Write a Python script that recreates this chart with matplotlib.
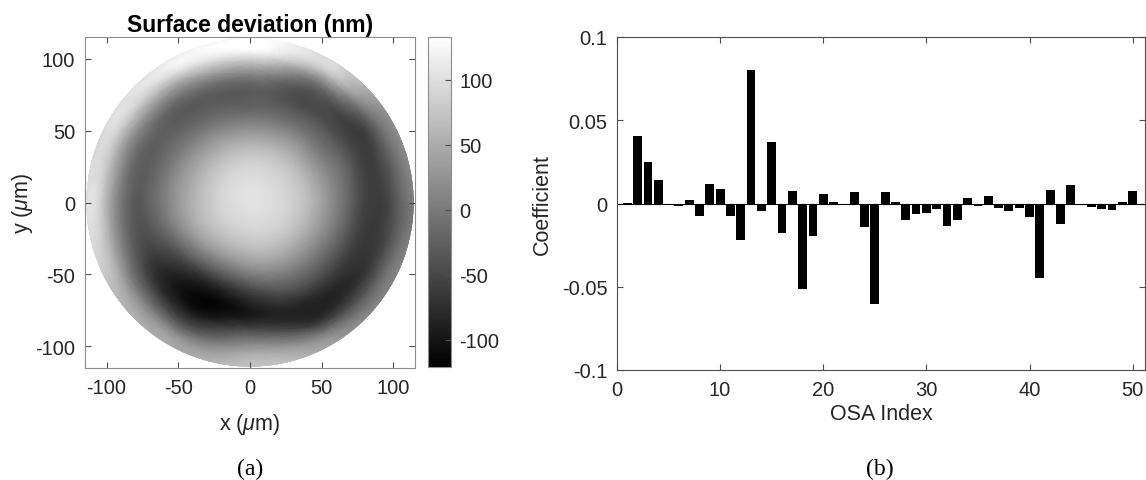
import matplotlib

matplotlib.use("Agg")

import matplotlib.pyplot as plt
import matplotlib.tri as mtri
import numpy as np
from matplotlib.patches import Circle

plt.rcParams["font.family"] = ["Liberation Sans", "DejaVu Sans"]
plt.rcParams["mathtext.fontset"] = "custom"
plt.rcParams["mathtext.it"] = "Liberation Sans:italic"
plt.rcParams["mathtext.rm"] = "Liberation Sans"
plt.rcParams["axes.unicode_minus"] = False

# surface map, values on a polar grid (nm)
ring_radius = [25, 45, 60, 75, 90, 105, 120]
ring_angle_deg = [0, 30, 60, 90, 120, 150, 180, 210, 240, 270, 300, 330]
center_nm = 104
surface_nm = [
    [91, 91, 91, 91, 89, 87, 84, 82, 79, 82, 86, 89],
    [54, 51, 49, 44, 44, 44, 44, 34, 14, 24, 39, 47],
    [9, 4, -1, -6, -1, 4, 4, -26, -66, -46, -11, -1],
    [-41, -36, -41, -31, -31, -26, -31, -61, -113, -96, -66, -51],
    [-61, -61, -31, 19, 4, 4, 0, -31, -76, -36, -86, -71],
    [-21, -6, 75, 125, 105, 89, 89, 49, 19, 49, 4, -16],
    [19, 35, 85, 110, 95, 84, 89, 74, 54, 74, 54, 19],
]
cbar_ticks = [-100, -50, 0, 50, 100]
map_ticks = [-100, -50, 0, 50, 100]

# zernike coefficients
osa_index = list(range(1, 51))
coeffs = [
    0.0003, 0.0405, 0.0252, 0.0144, -0.0003, -0.0016, 0.0022, -0.0074, 0.0118, 0.0088,
    -0.0074, -0.0222, 0.0804, -0.0048, 0.0372, -0.0180, 0.0076, -0.0512, -0.0198, 0.0060,
    0.0012, -0.0006, 0.0070, -0.0140, -0.0602, 0.0070, 0.0012, -0.0100, -0.0062, -0.0060,
    -0.0036, -0.0138, -0.0102, 0.0036, -0.0018, 0.0048, -0.0030, -0.0046, -0.0026, -0.0082,
    -0.0446, 0.0084, -0.0122, 0.0112, -0.0012, -0.0020, -0.0036, -0.0040, 0.0010, 0.0078,
]
bar_yticks = [-0.1, -0.05, 0, 0.05, 0.1]
bar_yticklabels = ["-0.1", "-0.05", "0", "0.05", "0.1"]
bar_xticks = [0, 10, 20, 30, 40, 50]

W, H = 1146, 481
fig = plt.figure(figsize=(W / 100, H / 100), dpi=100)
axis_gray = "#4d4d4d"
text_gray = "#262626"
tick_fs = 14.5
label_fs = 15.5


def box(x0, y0, x1, y1):
    return [x0 / W, 1 - y1 / H, (x1 - x0) / W, (y1 - y0) / H]


# polar mesh: centre point, then rings; each ring-to-ring quad split in two
n_ang = len(ring_angle_deg)
rr, tt = np.meshgrid(ring_radius, np.radians(ring_angle_deg), indexing="ij")
xs = np.concatenate([[0.0], (rr * np.cos(tt)).ravel()])
ys = np.concatenate([[0.0], (rr * np.sin(tt)).ravel()])
zs = np.concatenate([[center_nm], np.array(surface_nm, dtype=float).ravel()])
triangles = []
for j in range(n_ang):
    triangles.append([0, 1 + j, 1 + (j + 1) % n_ang])
for i in range(len(ring_radius) - 1):
    for j in range(n_ang):
        a = 1 + i * n_ang + j
        b = 1 + i * n_ang + (j + 1) % n_ang
        c = b + n_ang
        d = a + n_ang
        triangles.append([a, b, c])
        triangles.append([a, c, d])
tri = mtri.Triangulation(xs, ys, triangles)
tri_f, z_f = mtri.UniformTriRefiner(tri).refine_field(zs, subdiv=5)

# left panel
ax1 = fig.add_axes(box(85, 38, 415, 369))
pc = ax1.tripcolor(tri_f, z_f, shading="gouraud", cmap="gray", vmin=-121, vmax=133)
pc.set_clip_path(Circle((0, 0), 114, transform=ax1.transData))
ax1.set_xlim(-115, 115)
ax1.set_ylim(-115, 115)
ax1.set_xticks(map_ticks)
ax1.set_yticks(map_ticks)
ax1.tick_params(direction="in", length=4, top=True, right=True, labelsize=tick_fs,
                colors=axis_gray, labelcolor=text_gray, pad=7)
for sp in ax1.spines.values():
    sp.set_color("#8c8c8c")
ax1.set_title("Surface deviation (nm)", fontsize=16.5, fontweight="bold", pad=4)
ax1.set_xlabel(r"x ($\mu$m)", fontsize=label_fs, color=text_gray, labelpad=10)
ax1.set_ylabel(r"y ($\mu$m)", fontsize=label_fs, color=text_gray, labelpad=0)

cax = fig.add_axes(box(428, 38, 451, 368))
cb = fig.colorbar(pc, cax=cax)
cb.set_ticks(cbar_ticks)
cb.ax.tick_params(direction="in", length=4, labelsize=tick_fs, colors=axis_gray,
                  labelcolor=text_gray, pad=6)
cb.outline.set_edgecolor("#8c8c8c")

# right panel
ax2 = fig.add_axes(box(617, 38, 1145, 371))
ax2.bar(osa_index, coeffs, width=0.86, color="black", edgecolor="none")
ax2.axhline(0, color="black", lw=0.8)
ax2.set_xlim(0, 51.2)
ax2.set_ylim(-0.1, 0.1)
ax2.set_xticks(bar_xticks)
ax2.set_yticks(bar_yticks)
ax2.set_yticklabels(bar_yticklabels)
ax2.tick_params(direction="in", length=4, top=True, right=True, labelsize=tick_fs,
                colors=axis_gray, labelcolor=text_gray, pad=7)
for sp in ax2.spines.values():
    sp.set_color(axis_gray)
ax2.set_xlabel("OSA Index", fontsize=label_fs, color=text_gray, labelpad=3)
ax2.set_ylabel("Coefficient", fontsize=label_fs, color=text_gray, labelpad=6)

fig.text(250 / W, 1 - 469 / H, "(a)", fontsize=17, family="Liberation Serif",
         ha="center", va="center")
fig.text(880 / W, 1 - 469 / H, "(b)", fontsize=17, family="Liberation Serif",
         ha="center", va="center")

fig.savefig("out.png", dpi=100)
